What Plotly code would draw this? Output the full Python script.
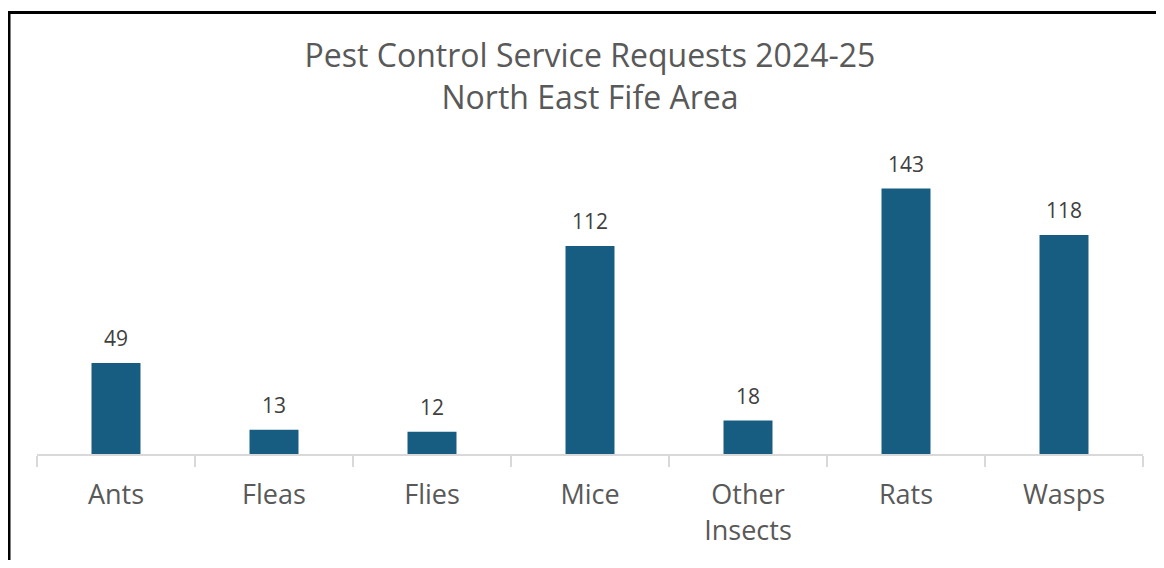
import plotly.graph_objects as go

categories = ["Ants", "Fleas", "Flies", "Mice", "Other<br>Insects", "Rats", "Wasps"]
values = [49, 13, 12, 112, 18, 143, 118]
title_lines = ["Pest Control Service Requests 2024-25", "North East Fife Area"]

BAR_COLOR = "#175D81"
TEXT_GRAY = "#595959"
FONT = "Open Sans"

W, H = 1156, 552

fig = go.Figure()
fig.add_trace(go.Bar(
    x=categories, y=values,
    marker=dict(color=BAR_COLOR, line=dict(width=0)),
    width=0.31,
    hoverinfo="x+y",
))

for c, v in zip(categories, values):
    fig.add_annotation(
        x=c, y=v, text=str(v), showarrow=False,
        xref="x", yref="y", yanchor="bottom", yshift=9,
        font=dict(family=FONT, size=21, color="#404040"),
    )

# plot area in pixels: left 29, right 1135, top 149, bottom 449
PL, PR, PT, PB = 29, 1135, 149, 449
def px_x(p):
    return (p - PL) / (PR - PL)
def px_y(p):
    return (PB - p) / (PB - PT)

# outer border (left and top edges visible in the reference)
fig.add_shape(type="line", xref="paper", yref="paper",
              x0=px_x(1), x1=px_x(1), y0=px_y(H + 5), y1=px_y(3),
              line=dict(color="black", width=3))
fig.add_shape(type="line", xref="paper", yref="paper",
              x0=px_x(0), x1=px_x(W + 5), y0=px_y(3), y1=px_y(3),
              line=dict(color="black", width=3))

fig.update_layout(
    width=W, height=H,
    margin=dict(l=PL, r=W - PR, t=PT, b=H - PB),
    paper_bgcolor="white", plot_bgcolor="white",
    showlegend=False,
    title=dict(
        text="<br>".join(title_lines),
        x=0.5, xref="paper", xanchor="center",
        y=1 - 59 / H, yref="container", yanchor="top",
        font=dict(family=FONT, size=32, color=TEXT_GRAY),
    ),
    xaxis=dict(
        showline=True, linecolor="#D9D9D9", linewidth=2,
        ticks="outside", tickson="boundaries", ticklen=11,
        tickcolor="#D9D9D9", tickwidth=2,
        tickfont=dict(family=FONT, size=27, color=TEXT_GRAY),
        ticklabelstandoff=16,
        showgrid=False, zeroline=False,
    ),
    yaxis=dict(
        range=[0, 160], visible=False, showgrid=False, zeroline=False,
    ),
)

fig.write_html("out.html")
